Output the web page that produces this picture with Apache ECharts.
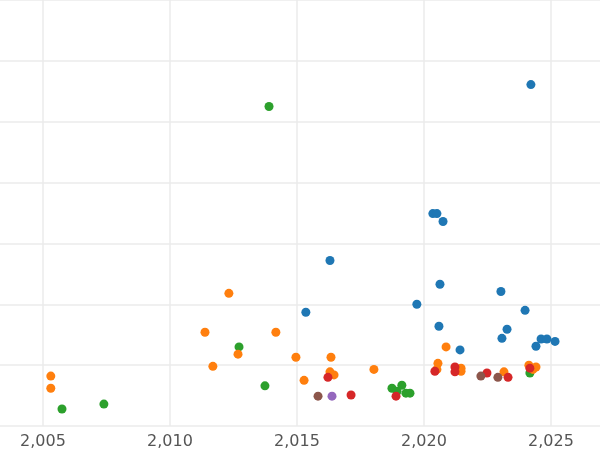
<!DOCTYPE html>
<html><head><meta charset="utf-8">
<script src="https://cdn.jsdelivr.net/npm/echarts@6/dist/echarts.min.js"></script>
<style>html,body{margin:0;background:#fff}#c{width:600px;height:450px}</style>
</head><body><div id="c"></div>
<script>
const xTicks = [2005, 2010, 2015, 2020, 2025];
const blue = [[2024.21,5.61],[2020.35,3.49],[2020.51,3.49],[2020.75,3.36],[2016.30,2.72],[2020.63,2.33],[2023.03,2.21],[2015.35,1.87],[2019.72,2.00],[2023.98,1.90],[2020.59,1.64],[2023.27,1.59],[2021.42,1.25],[2023.07,1.44],[2024.41,1.31],[2024.61,1.43],[2024.84,1.43],[2025.16,1.39]];
const green = [[2013.90,5.25],[2005.75,0.28],[2007.40,0.36],[2012.72,1.30],[2013.74,0.66],[2018.74,0.62],[2018.94,0.57],[2019.13,0.67],[2019.29,0.54],[2019.45,0.54],[2024.17,0.87],[2024.21,0.93]];
const orange = [[2005.31,0.82],[2005.31,0.62],[2012.32,2.18],[2011.38,1.54],[2014.17,1.54],[2012.68,1.18],[2011.69,0.98],[2014.96,1.13],[2016.34,1.13],[2015.28,0.75],[2016.30,0.89],[2016.46,0.84],[2018.03,0.93],[2020.87,1.30],[2020.55,1.03],[2020.51,0.93],[2021.46,0.95],[2021.46,0.90],[2023.15,0.89],[2024.13,1.00],[2024.41,0.97],[2024.29,0.93]];
const red = [[2016.22,0.80],[2017.13,0.51],[2018.90,0.49],[2020.43,0.90],[2021.22,0.97],[2021.22,0.89],[2022.48,0.87],[2023.31,0.80],[2024.17,0.95]];
const brown = [[2015.83,0.49],[2022.24,0.82],[2022.91,0.80]];
const purple = [[2016.38,0.49]];

const chart = echarts.init(document.getElementById('c'));
const mk = (data, color) => ({ type: 'scatter', data, symbolSize: 9, itemStyle: { color, opacity: 1 } });
chart.setOption({
  animation: false,
  grid: { left: 0, right: 0, top: 0, bottom: 23 },
  xAxis: {
    type: 'value', min: 2003.31, max: 2026.93,
    axisLine: { show: false },
    axisTick: { show: false, customValues: xTicks },
    axisLabel: { color: '#555', fontSize: 16, fontFamily: 'DejaVu Sans', margin: 8, customValues: xTicks },
    splitLine: { lineStyle: { color: '#ebebeb', width: 1.5 } }
  },
  yAxis: {
    type: 'value', min: 0, max: 7, interval: 1,
    axisLine: { show: false }, axisTick: { show: false }, axisLabel: { show: false },
    splitLine: { lineStyle: { color: '#ebebeb', width: 1.5 } }
  },
  series: [mk(blue, '#1f77b4'), mk(green, '#2ca02c'), mk(orange, '#ff7f0e'), mk(red, '#d62728'), mk(brown, '#8c564b'), mk(purple, '#9467bd')]
});
</script></body></html>
